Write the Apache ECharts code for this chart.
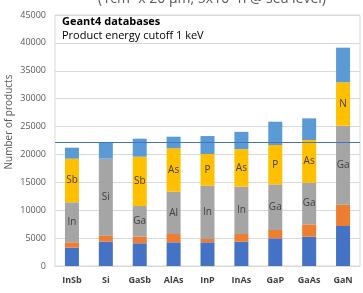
<!DOCTYPE html>
<html>
<head>
<meta charset="utf-8">
<script src="https://cdn.jsdelivr.net/npm/echarts@6/dist/echarts.min.js"></script>
<style>
    html, body { margin: 0; padding: 0; background: #fff; }
    #chart { width: 363px; height: 293px; }
</style>
</head>
<body>
<div id="chart"></div>
<script>
// materials on the x axis
const categories = ["InSb", "Si", "GaSb", "AlAs", "InP", "InAs", "GaP", "GaAs", "GaN"];

// stacked segments, bottom to top
const blueValues   = [3280, 4360, 4070, 4250, 4250, 4360, 4960, 5260, 7170];
const orangeValues = [970, 1080, 1190, 1490, 590, 1380, 1490, 2210, 3820];
const grayValues   = [7170, 13800, 5500, 7590, 9560, 8480, 8190, 7470, 14160];
const yellowValues = [7820, 0, 8840, 7770, 5680, 6730, 7050, 7650, 7780];
const topValues    = [1970, 2990, 3230, 2080, 3220, 3100, 4180, 3880, 6210];

// element names written inside the segments
const grayLabels   = ["In", "Si", "Ga", "Al", "In", "In", "Ga", "Ga", "Ga"];
const yellowLabels = ["Sb", "", "Sb", "As", "P", "As", "P", "As", "N"];

const refLine = 22200;

const chart = echarts.init(document.getElementById("chart"));

const segment = (name, data, color, labels) => ({
    name: name,
    type: "bar",
    stack: "total",
    barWidth: 14,
    data: data,
    itemStyle: { color: color },
    label: labels ? {
        show: true,
        position: "inside",
        color: "#404040",
        fontSize: 10,
        fontFamily: "Open Sans",
        formatter: (p) => labels[p.dataIndex]
    } : { show: false }
});

const series = [
    segment("blue", blueValues, "#4472C4"),
    segment("orange", orangeValues, "#ED7D31"),
    segment("gray", grayValues, "#A5A5A5", grayLabels),
    segment("yellow", yellowValues, "#FFC000", yellowLabels),
    segment("top", topValues, "#5B9BD5")
];
series[4].markLine = {
    silent: true,
    symbol: "none",
    label: { show: false },
    lineStyle: { color: "#4472C4", width: 1, type: "solid" },
    data: [{ yAxis: refLine }]
};

chart.setOption({
    animation: false,
    textStyle: { fontFamily: "Open Sans" },
    title: {
        text: "(1cm\u00b2 x 20 \u00b5m, 5x10\u2076 n @ sea level)",
        left: 207,
        textAlign: "center",
        top: -13,
        textStyle: { fontSize: 14, fontWeight: "normal", color: "#595959" }
    },
    grid: {
        left: 55,
        right: 3,
        top: 15,
        bottom: 27,
        show: true,
        borderColor: "#D9D9D9",
        borderWidth: 1
    },
    xAxis: {
        type: "category",
        data: categories,
        axisLine: { lineStyle: { color: "#D9D9D9" } },
        axisTick: { show: false },
        axisLabel: { color: "#404040", fontSize: 9, fontWeight: "bold", margin: 10 }
    },
    yAxis: {
        type: "value",
        min: 0,
        max: 45000,
        interval: 5000,
        axisLine: { show: false },
        axisTick: { show: false },
        splitLine: { lineStyle: { color: "#D9D9D9" } },
        axisLabel: { color: "#595959", fontSize: 9, margin: 9, formatter: (v) => String(v) }
    },
    graphic: [
        {
            type: "text",
            left: 62,
            top: 16,
            style: { text: "Geant4 databases", fontSize: 11, fontWeight: "bold", fill: "#000", fontFamily: "Open Sans" }
        },
        {
            type: "text",
            left: 62,
            top: 30,
            style: { text: "Product energy cutoff 1 keV", fontSize: 11, fill: "#000", fontFamily: "Open Sans" }
        },
        {
            type: "text",
            x: 4,
            y: 122,
            rotation: Math.PI / 2,
            style: {
                text: "Number of products",
                fontSize: 10,
                fill: "#595959",
                fontFamily: "Open Sans",
                textAlign: "center",
                textVerticalAlign: "top"
            }
        }
    ],
    series: series
});
</script>
</body>
</html>
